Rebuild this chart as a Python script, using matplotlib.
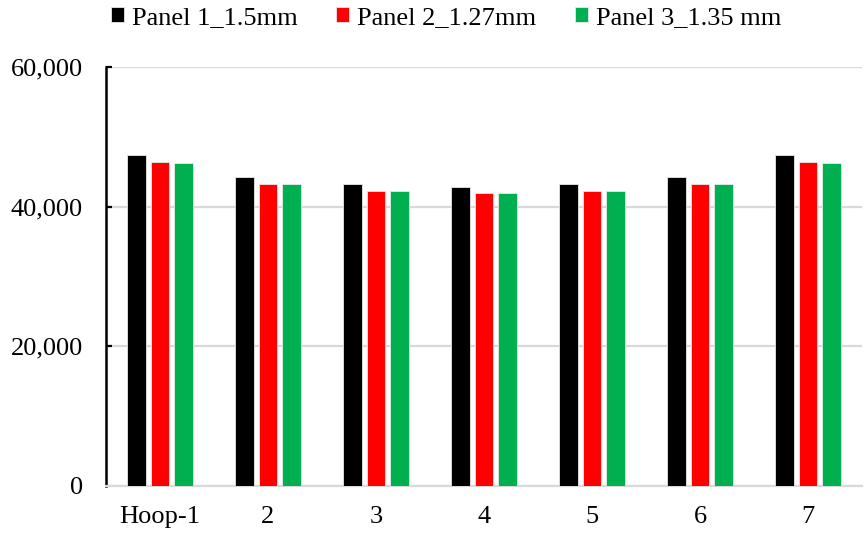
import matplotlib
matplotlib.use("Agg")
import matplotlib.pyplot as plt
import numpy as np
from matplotlib.ticker import FuncFormatter

categories = ["Hoop-1", "2", "3", "4", "5", "6", "7"]
panel1 = [47400, 44250, 43200, 42800, 43200, 44250, 47400]
panel2 = [46450, 43200, 42200, 41900, 42200, 43200, 46450]
panel3 = [46250, 43200, 42200, 41900, 42200, 43200, 46250]
series_names = ["Panel 1_1.5mm", "Panel 2_1.27mm", "Panel 3_1.35 mm"]
series_colors = ["#000000", "#ff0000", "#00b050"]

plt.rcParams["font.family"] = ["Liberation Serif", "DejaVu Serif"]

fig = plt.figure(figsize=(8.68, 5.34), dpi=100)
ax = fig.add_axes([0.1221, 0.0899, 0.8710, 0.7846])

x = np.arange(len(categories))
pitch = 0.2176
width = 0.171
for k, (vals, name, col) in enumerate(zip([panel1, panel2, panel3], series_names, series_colors)):
    ax.bar(x + (k - 1) * pitch, vals, width, color=col, label=name,
           edgecolor="#e8e8e8", linewidth=0.6, zorder=3)

ax.set_xlim(-0.5, len(categories) - 0.5)
ax.set_ylim(0, 60000)
ax.set_yticks([0, 20000, 40000, 60000])
ax.yaxis.set_major_formatter(FuncFormatter(lambda v, p: f"{int(v):,}"))
ax.set_xticks(x)
ax.set_xticklabels(categories)

ax.grid(axis="y", color="#d9d9d9", linewidth=1.6, zorder=0)
for s in ["top", "right"]:
    ax.spines[s].set_visible(False)
ax.spines["bottom"].set_color("#d9d9d9")
ax.spines["bottom"].set_linewidth(1.6)
ax.spines["bottom"].set_zorder(2.5)
ax.spines["left"].set_color("black")
ax.spines["left"].set_linewidth(1.8)

ax.tick_params(axis="y", direction="in", length=4.5, width=1.6, pad=16.5, labelsize=19)
ax.tick_params(axis="x", length=0, pad=14.5, labelsize=19)
ax.yaxis.get_major_ticks()[0].tick1line.set_visible(False)

fig.legend(loc="upper center", bbox_to_anchor=(0.514, 1.031), ncol=3, frameon=False,
           fontsize=19, handlelength=0.5, handleheight=0.5, handletextpad=0.3,
           columnspacing=1.45)

fig.savefig("out.png", dpi=100)
